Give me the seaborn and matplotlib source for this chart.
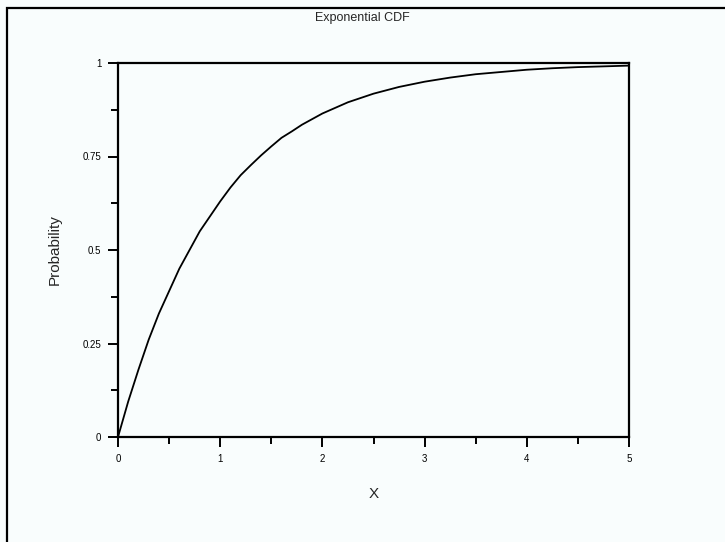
# Exponential CDF - recreation with seaborn

import pandas as pd
import matplotlib.pyplot as plt
import seaborn as sns
from matplotlib.patches import Rectangle

# values
x_vals = [0, 0.1, 0.2, 0.3, 0.4, 0.5, 0.6, 0.7, 0.8, 0.9, 1.0,
          1.1, 1.2, 1.3, 1.4, 1.5, 1.6, 1.7, 1.8, 1.9, 2.0,
          2.25, 2.5, 2.75, 3, 3.25, 3.5, 3.75, 4, 4.25, 4.5, 4.75, 5]
prob_vals = [0, 0.095, 0.18, 0.26, 0.33, 0.39, 0.45, 0.50, 0.55, 0.59, 0.63,
             0.667, 0.70, 0.727, 0.753, 0.777, 0.80, 0.817, 0.835, 0.85, 0.865,
             0.895, 0.918, 0.936, 0.95, 0.961, 0.97, 0.976, 0.982, 0.986, 0.989, 0.991, 0.993]
x_ticks = [0, 1, 2, 3, 4, 5]
x_tick_labels = ['0', '1', '2', '3', '4', '5']
y_ticks = [0, 0.25, 0.5, 0.75, 1]
y_tick_labels = ['0', '0.25', '0.5', '0.75', '1']

df = pd.DataFrame({'X': x_vals, 'Probability': prob_vals})

sns.set_theme(style='ticks')
plt.rcParams['font.family'] = ['Liberation Sans', 'DejaVu Sans']

bg = '#f9fdfd'
fig = plt.figure(figsize=(7.25, 5.42), dpi=100, facecolor=bg)
ax = fig.add_axes([118 / 725, 1 - 437 / 542, 511 / 725, 374 / 542])
ax.set_facecolor(bg)

sns.lineplot(data=df, x='X', y='Probability', color='black', linewidth=1.3, ax=ax)

ax.set_xlim(0, 5)
ax.set_ylim(0, 1)
ax.set_xticks(x_ticks)
ax.set_xticklabels(x_tick_labels)
ax.set_yticks(y_ticks)
ax.set_yticklabels(y_tick_labels)
ax.set_xticks([0.5, 1.5, 2.5, 3.5, 4.5], minor=True)
ax.set_yticks([0.125, 0.375, 0.625, 0.875], minor=True)

for s in ax.spines.values():
    s.set_linewidth(1.6)
    s.set_color('black')
    s.set_visible(True)

ax.tick_params(which='major', direction='out', length=7, width=1.4,
               labelsize=7, pad=5, colors='black')
ax.tick_params(which='minor', direction='out', length=5, width=1.4, colors='black')
ax.tick_params(top=False, right=False, which='both')

ax.set_xlabel('X', fontsize=11, labelpad=17)
ax.set_ylabel('Probability', fontsize=11, labelpad=15)
fig.text(0.5, 1 - 18 / 542, 'Exponential CDF', ha='center', va='center', fontsize=9)

# outer frame of the figure
frame = Rectangle((7 / 725, -0.05), 1.2, 1 - 8 / 542 + 0.05, transform=fig.transFigure,
                  fill=False, edgecolor='black', linewidth=1.6, clip_on=False)
fig.patches.append(frame)

plt.savefig('out.png', dpi=100, facecolor=bg)
plt.close()
